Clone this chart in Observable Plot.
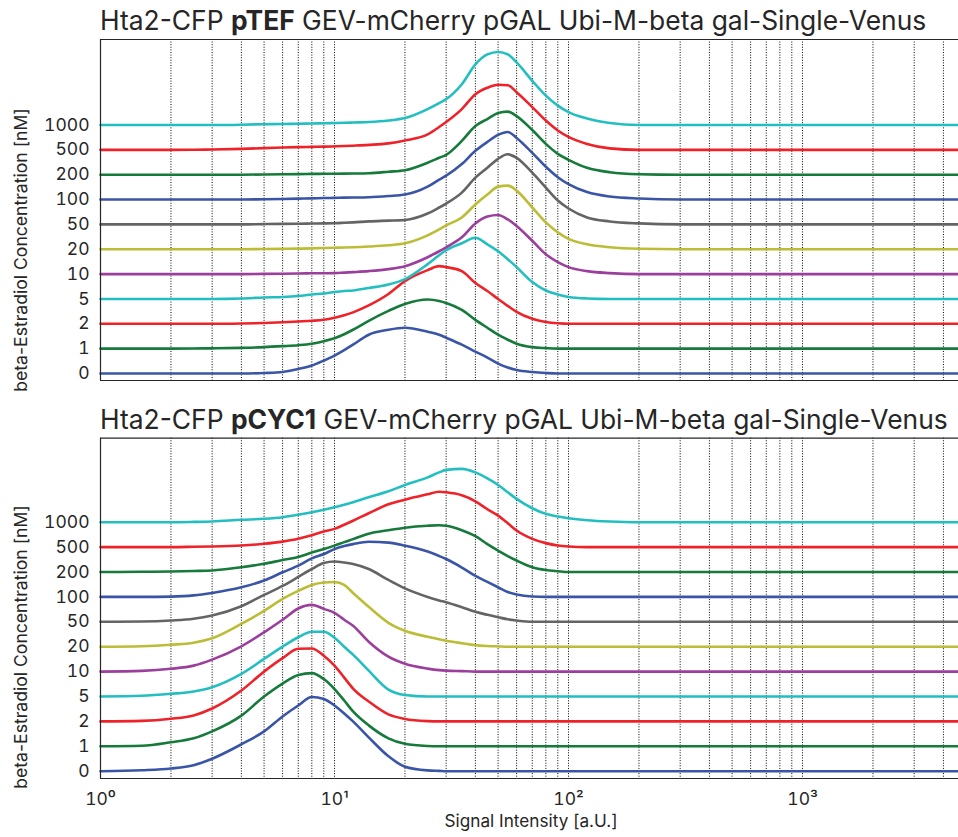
<!DOCTYPE html>
<html>
<head>
<meta charset="utf-8">
<script src="https://cdn.jsdelivr.net/npm/d3@7"></script>
<script src="https://cdn.jsdelivr.net/npm/@observablehq/plot@0.6"></script>
<style>
  body { margin: 0; background: #fff; }
  #chart { position: relative; width: 958px; height: 837px; overflow: hidden; }
  #chart svg { position: absolute; left: 0; }
</style>
</head>
<body>
<div id="chart"></div>
<script>
// Beta-estradiol doses (nM), one ridge per dose, bottom to top
const concentrations = [0, 1, 2, 5, 10, 20, 50, 100, 200, 500, 1000];
const lineColors = ["#3a55a6", "#157a3a", "#ee2229", "#23bfc0", "#9c3f9c", "#bcbd36",
                    "#646464", "#3a55a6", "#157a3a", "#ee2229", "#23bfc0"];

// Signal intensity (a.U.) at which each density profile is sampled
const signal = [1, 1.5, 2, 2.5, 3, 4, 5, 6, 7, 8, 9, 10, 11, 12, 14, 17, 20, 25, 28, 30,
                35, 40, 45, 50, 55, 60, 70, 80, 90, 100, 120, 150, 200, 300, 4640];

// Densities (arbitrary units) — pTEF-driven GEV
const pTEF = [
  [0,0,0,0,0, 0,0.5,1.5,4.5,8,13,18, 23.5,29,39,44,46, 42,39,36,29,22, 16,10,6,3.5,1.5, 0.5,0,0,0,0, 0,0,0],
  [0,0,0,0.2,0.3, 0.8,1.5,2.5,3.5,5,7.5,10.5, 14.5,19,28,38,45, 49.5,48,46,39,29, 21,14,9,5,1.5, 0.5,0,0,0,0, 0,0,0],
  [0,0,0,0,0, 0.3,0.8,1.5,2.3,3,4,6, 8.5,11.5,18.5,30,43, 54,58,57,53,41, 33,25,18,12,5, 1.8,0.5,0,0,0, 0,0,0],
  [0,0,0,0,0, 0.5,1.5,2,3,4.5,5.5,7, 8,8.5,11,14.5,20, 35,44,49,56,61.5, 55,48,40,32,17, 8.5,4.5,2,0.5,0, 0,0,0],
  [0,0,0,0,0, 0,0.2,0.4,0.6,0.8,0.9,1, 1.5,2,3,5,8, 17,23,27,37,51, 58,59.5,55,48.5,33.5, 20,12,7,3,1, 0,0,0],
  [0,0,0,0,0, 0,0.2,0.4,0.6,0.9,1.2,1.5, 1.8,2,2.7,4,6, 14,20,24,32,45, 55,63,64,59,42, 27,17,10.5,5,2, 0.5,0,0],
  [0,0,0,0,0, 0,0.3,0.5,0.7,0.9,1,1.2, 1.6,2,3,3.8,4.5, 11,17,21,32,47, 57,66,70.5,67,52, 37,24,16,7,3, 1,0,0],
  [0,0,0,0,0, 0,0.3,0.6,0.9,1.2,1.5,1.7, 1.9,2,2.3,3.5,5, 13,20,24,35.7,49, 58,65,68,62,47, 33,22.5,15.5,7.5,3, 1,0,0],
  [0,0,0,0,0, 0,0.2,0.4,0.6,0.8,0.9,1, 1.1,1.2,1.5,3,4.5, 12,17,20,34,49, 56,62,63.5,59,45, 31,21,15,7,2.5, 0.5,0,0],
  [0,0,0,0.1,0.3, 1,1.7,2.3,2.7,3,3.2,3.5, 3.8,4.2,5,6.5,9.4, 15.5,23,28,41,56, 62.5,65.5,65,58,43, 29.5,19.5,13,6,1.5, 0,0,0],
  [0,0,0,0,0, 0.3,0.8,1,1.3,1.5,1.8,2, 2.2,2.5,3,4.5,7, 16,22,26,41,61, 71,73.5,71,63,44.5, 29.5,19.5,13,6.5,2, 0,0,0]
];

// Densities (arbitrary units) — pCYC1-driven GEV
const pCYC1 = [
  [0,1,2.7,6,12.5, 27,40,55,66,74.5,72.5,66, 58,50,34,15,4.5, 0.8,0.3,0,0,0, 0,0,0,0,0, 0,0,0,0,0, 0,0,0],
  [0,0.5,4,8,15, 30.8,50,63,71.5,73.5,67.5,57.5, 46,35,21,8,2.5, 0.3,0,0,0,0, 0,0,0,0,0, 0,0,0,0,0, 0,0,0],
  [0,0.5,2.6,6,13, 31,50,63.5,73,73.2,66,56, 44,33,20,7,2.5, 0.3,0,0,0,0, 0,0,0,0,0, 0,0,0,0,0, 0,0,0],
  [0,0.7,2.7,5,9.3, 22.7,37.7,50,59.5,65,65,59, 50,42,26,7,1.5, 0,0,0,0,0, 0,0,0,0,0, 0,0,0,0,0, 0,0,0],
  [0,0.7,2.8,6,12, 25.4,39.4,52,63.4,67,63,59, 52,46,30,15,7.8, 3,1.5,1,0.5,0, 0,0,0,0,0, 0,0,0,0,0, 0,0,0],
  [0,0.5,2,4,8.5, 23,36,48,56,62,64.5,65, 62,54,40,24,16, 10,7.5,6,3.5,1.5, 0.7,0.3,0,0,0, 0,0,0,0,0, 0,0,0],
  [0,0.3,1.3,3,6.3, 15.6,27,36,45,53,59,60.5, 59.5,58,53,42,33.6, 25,21.5,19.6,14.6,10, 7,4.6,2.5,1.3,0, 0,0,0,0,0, 0,0,0],
  [0,0,0.3,1.5,4, 9.7,16.4,24.7,31.4,38.7,43,48, 51,53,55.4,54.5,51.4, 45.5,41,38,29.5,21, 15,9.7,5,2.5,0.4, 0,0,0,0,0, 0,0,0],
  [0,0.2,0.5,1,1.5, 4.8,8.2,12,15,19.5,23,26.5, 30,33,38.5,42,44.5, 46.5,47,46.5,42,36, 28,21.5,16,11.5,4.8, 2,0.8,0,0,0, 0,0,0],
  [0,0,0,0.3,0.6, 1.6,3.3,5.5,8.3,12,15.6,18.3, 22.5,26.5,34,43,47.6, 53,55.6,55,52,46, 38,31.6,24,16.6,8.3, 4,1.6,0.6,0,0, 0,0,0],
  [0,0,0,0.3,0.7, 2.4,3.4,5,7.5,10,12.5,15, 17.5,20,25,31,37.4, 45,50,52.5,53.5,50, 44,37.4,30,23.4,14, 8.4,5.7,4,2,0.7, 0,0,0]
];

// Axis ticks and labels
const decadeTicks = [1, 10, 100, 1000];
const gridValues = d3.range(1, 5).flatMap(e => d3.range(1, 10).map(m => m * 10 ** (e - 1)))
  .filter(v => v > 1 && v <= 4000);
const superscripts = {"0": "⁰", "1": "¹", "2": "²", "3": "³"};
const titles = [
  ["Hta2-CFP ", "pTEF", " GEV-mCherry pGAL Ubi-M-beta gal-Single-Venus"],
  ["Hta2-CFP ", "pCYC1", " GEV-mCherry pGAL Ubi-M-beta gal-Single-Venus"]
];
const yLabel = "beta-Estradiol Concentration [nM]";
const xLabel = "Signal Intensity [a.U.]";

const FONT = "Inter, 'Helvetica Neue', Helvetica, Arial, sans-serif";
const INK = "#262626";
const TICK_SIZE = 17.5;
const ridgeUnit = 25;          // density units per ridge spacing
const xDomain = [1, 4640];

const chart = document.getElementById("chart");

function panel(rows, {top, height, marginTop, marginBottom, yDomain, showX}) {
  const data = rows.flatMap((vals, i) =>
    vals.map((v, j) => ({x: signal[j], y: i + v / ridgeUnit, series: i})));
  const marks = [
    Plot.ruleX(gridValues, {stroke: "#000", strokeWidth: 1, strokeDasharray: "1,1.6"}),
    Plot.line(data, {x: "x", y: "y", z: "series", stroke: "series", strokeWidth: 2.6, curve: "monotone-x"}),
    Plot.ruleY(yDomain, {stroke: INK, strokeWidth: 1.2}),
    Plot.ruleX([xDomain[0]], {stroke: INK, strokeWidth: 1.2}),
    Plot.axisY({
      ticks: d3.range(concentrations.length),
      tickFormat: i => String(concentrations[i]),
      tickSize: 0, tickPadding: 11, fontSize: TICK_SIZE, label: null
    })
  ];
  if (showX) marks.push(Plot.axisX({
    ticks: decadeTicks,
    tickFormat: d => "10" + superscripts[String(Math.round(Math.log10(d)))],
    tickSize: 0, tickPadding: 14, fontSize: TICK_SIZE, label: null
  }));
  const svg = Plot.plot({
    width: 958,
    height,
    marginLeft: 100,
    marginRight: 0,
    marginTop,
    marginBottom,
    style: {background: "transparent", fontFamily: FONT, fontSize: TICK_SIZE + "px", color: INK},
    x: {type: "log", domain: xDomain, axis: null},
    y: {domain: yDomain, axis: null},
    color: {domain: d3.range(concentrations.length), range: lineColors},
    marks
  });
  svg.style.top = top + "px";
  chart.appendChild(svg);
}

// Upper panel: rows 0..10 at 24.85 px spacing, frame 39..380
panel(pTEF, {top: 0, height: 400, marginTop: 39, marginBottom: 20,
             yDomain: [-7 / 24.85, 334 / 24.85], showX: false});
// Lower panel: frame 437.7..778
panel(pCYC1, {top: 400, height: 437, marginTop: 37.7, marginBottom: 59,
              yDomain: [-7.3 / 24.9, 333 / 24.9], showX: true});

// Titles and axis labels
const overlay = d3.select(chart).append("svg")
  .attr("width", 958).attr("height", 837)
  .style("top", "0px").style("pointer-events", "none")
  .attr("font-family", FONT).attr("fill", INK);

[[30, titles[0]], [429, titles[1]]].forEach(([y, parts]) => {
  const t = overlay.append("text").attr("x", 100).attr("y", y).attr("font-size", 26.4);
  t.append("tspan").text(parts[0]);
  t.append("tspan").attr("font-weight", 700).text(parts[1]);
  t.append("tspan").text(parts[2]);
});

[250, 647].forEach(cy => {
  overlay.append("text")
    .attr("transform", `translate(27,${cy}) rotate(-90)`)
    .attr("text-anchor", "middle").attr("font-size", 17.6)
    .text(yLabel);
});

overlay.append("text").attr("x", 531).attr("y", 827).attr("text-anchor", "middle")
  .attr("font-size", 17.2).text(xLabel);
</script>
</body>
</html>
